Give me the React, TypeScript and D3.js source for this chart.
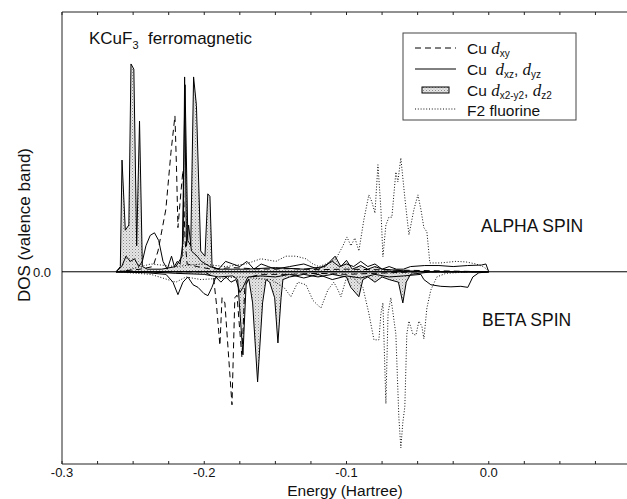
import React, { useMemo } from 'react';
import * as d3 from 'd3';

// ==================== DATA (energy in Hartree, DOS in arb. units) ====================
type Pt = [number, number];

// Cu d(x2-y2), d(z2) - shaded
const shadedAlpha: Pt[] = [
  [-0.262, 0], [-0.259, 0.1], [-0.2578, 2.15], [-0.2555, 0.8], [-0.253, 0.9], [-0.2515, 4.0],
  [-0.2495, 3.9], [-0.2475, 0.5], [-0.2455, 2.9], [-0.2435, 0.1], [-0.24, 0.05], [-0.23, 0.05],
  [-0.22, 0.1], [-0.2155, 0.3], [-0.2135, 3.6], [-0.2115, 0.6], [-0.2095, 0.5], [-0.2075, 3.75],
  [-0.2055, 3.2], [-0.2025, 0.4], [-0.1995, 0.3], [-0.1975, 1.5], [-0.196, 1.45], [-0.1945, 0.1],
  [-0.19, 0.05], [-0.17, 0.05], [-0.15, 0.08], [-0.13, 0.05], [-0.115, 0.1], [-0.108, 0.3],
  [-0.104, 0.1], [-0.1, 0.22], [-0.096, 0.05], [-0.09, 0.12], [-0.085, 0.05], [-0.08, 0.1],
  [-0.075, 0.05], [-0.06, 0.02], [-0.04, 0], [0, 0],
];
const shadedBeta: Pt[] = [
  [-0.262, 0], [-0.24, 0], [-0.22, -0.03], [-0.2, -0.05], [-0.19, -0.1], [-0.18, -0.08],
  [-0.1765, -0.15], [-0.1728, -1.6], [-0.1705, -0.2], [-0.1686, -0.15], [-0.166, -0.6],
  [-0.1625, -2.12], [-0.159, -0.6], [-0.1566, -0.15], [-0.154, -0.2], [-0.1505, -0.5],
  [-0.1482, -1.37], [-0.146, -0.5], [-0.1447, -0.15], [-0.14, -0.1], [-0.13, -0.05],
  [-0.12, -0.1], [-0.11, -0.05], [-0.1, -0.1], [-0.097, -0.3], [-0.0913, -0.48], [-0.0885, -0.15],
  [-0.085, -0.1], [-0.08, -0.2], [-0.075, -0.1], [-0.07, -0.15], [-0.0635, -0.2], [-0.0604, -0.6],
  [-0.058, -0.2], [-0.055, -0.05], [-0.04, 0], [0, 0],
];

// Cu d(xz), d(yz) - solid
const solidAlpha: Pt[] = [
  [-0.262, 0], [-0.258, 0.1], [-0.255, 0.3], [-0.252, 0.2], [-0.249, 0.25], [-0.246, 0.1],
  [-0.2435, 0.2], [-0.241, 0.5], [-0.238, 0.7], [-0.235, 0.75], [-0.232, 0.6], [-0.229, 0.2],
  [-0.226, 0.05], [-0.223, 0.3], [-0.221, 0.1], [-0.219, 0.2], [-0.217, 0.15], [-0.2148, 0.6],
  [-0.2138, 3.75], [-0.2125, 0.5], [-0.211, 0.9], [-0.209, 0.4], [-0.205, 0.3], [-0.202, 0.2],
  [-0.199, 0.15], [-0.196, 0.1], [-0.19, 0.05], [-0.185, 0.2], [-0.18, 0.15], [-0.175, 0.1],
  [-0.17, 0.2], [-0.165, 0.05], [-0.16, 0.15], [-0.155, 0.1], [-0.15, 0.05], [-0.14, 0.1],
  [-0.13, 0.15], [-0.12, 0.05], [-0.11, 0.2], [-0.105, 0.1], [-0.1, 0.15], [-0.095, 0.1],
  [-0.09, 0.2], [-0.085, 0.1], [-0.08, 0.15], [-0.075, 0.05], [-0.07, 0.1], [-0.065, 0.05],
  [-0.06, 0.05], [-0.055, 0.1], [-0.045, 0.12], [-0.035, 0.12], [-0.025, 0.1], [-0.015, 0.12],
  [-0.005, 0.13], [-0.002, 0.15], [0, 0],
];
const solidBeta: Pt[] = [
  [-0.262, 0], [-0.24, -0.02], [-0.2269, -0.05], [-0.222, -0.2], [-0.2185, -0.44], [-0.215, -0.2],
  [-0.2115, -0.1], [-0.2079, -0.25], [-0.2044, -0.3], [-0.2002, -0.42], [-0.1974, -0.46],
  [-0.1946, -0.3], [-0.1918, -0.1], [-0.1883, -0.2], [-0.1848, -0.1], [-0.1812, -0.2],
  [-0.1777, -0.15], [-0.1749, -0.4], [-0.1728, -0.3], [-0.1693, -0.1], [-0.16, -0.08],
  [-0.15, -0.1], [-0.14, -0.05], [-0.13, -0.12], [-0.12, -0.05], [-0.11, -0.15], [-0.1, -0.08],
  [-0.09, -0.12], [-0.08, -0.05], [-0.07, -0.1], [-0.06, -0.08], [-0.0477, -0.05],
  [-0.0456, -0.15], [-0.0407, -0.25], [-0.0337, -0.28], [-0.0266, -0.29], [-0.0196, -0.28],
  [-0.0147, -0.3], [-0.0112, -0.1], [-0.007, -0.02], [0, 0],
];

// Cu d(xy) - dashed
const dashedAlpha: Pt[] = [
  [-0.262, 0], [-0.245, 0.05], [-0.236, 0.1], [-0.2325, 0.4], [-0.227, 1.2], [-0.2234, 2.3],
  [-0.2206, 3.0], [-0.2195, 2.0], [-0.2185, 0.85], [-0.2165, 1.5], [-0.215, 1.95], [-0.2135, 0.6],
  [-0.212, 0.15], [-0.205, 0.1], [-0.195, 0.05], [-0.18, 0.08], [-0.16, 0.05], [-0.14, 0.06],
  [-0.12, 0.04], [-0.1, 0.05], [-0.06, 0.03], [0, 0],
];
const dashedBeta: Pt[] = [
  [-0.262, 0], [-0.2, 0], [-0.1935, -0.1], [-0.1915, -0.6], [-0.189, -1.42], [-0.1875, -0.5],
  [-0.1855, -0.6], [-0.1805, -2.56], [-0.1785, -0.5], [-0.177, -0.45], [-0.1735, -1.65],
  [-0.1715, -0.3], [-0.168, -0.1], [-0.16, -0.05], [-0.14, -0.05], [-0.12, -0.03], [-0.1, -0.05],
  [-0.08, -0.03], [-0.05, 0], [0, 0],
];

// F2 fluorine - dotted
const dottedAlpha: Pt[] = [
  [-0.26, 0], [-0.2515, 0.05], [-0.2375, 0.15], [-0.22, 0.1], [-0.2023, 0.15], [-0.1848, 0.1],
  [-0.1707, 0.15], [-0.1602, 0.25], [-0.1496, 0.2], [-0.1426, 0.3], [-0.1356, 0.3],
  [-0.1285, 0.25], [-0.1236, 0.15], [-0.1194, 0.1], [-0.1145, 0.15], [-0.1074, 0.25],
  [-0.1025, 0.5], [-0.0997, 0.67], [-0.0969, 0.5], [-0.0941, 0.65], [-0.0913, 0.4],
  [-0.0878, 1.0], [-0.0843, 1.48], [-0.0822, 1.35], [-0.08, 1.13], [-0.0779, 2.06],
  [-0.0758, 1.2], [-0.0744, 0.29], [-0.0723, 0.9], [-0.0702, 1.05], [-0.0681, 1.05],
  [-0.0653, 1.92], [-0.0639, 1.73], [-0.0618, 2.19], [-0.0589, 1.4], [-0.0561, 0.71],
  [-0.0526, 1.2], [-0.0498, 1.48], [-0.0477, 1.2], [-0.0456, 0.85], [-0.0435, 0.77],
  [-0.0414, 0.17], [-0.0337, 0.17], [-0.0231, 0.2], [-0.0161, 0.19], [-0.009, 0.15],
  [-0.0041, 0.1], [-0.0013, 0.05], [0, 0],
];
const dottedBeta: Pt[] = [
  [-0.262, 0], [-0.2375, -0.05], [-0.2199, -0.2], [-0.2129, -0.1], [-0.2023, -0.15],
  [-0.1742, -0.1], [-0.1531, -0.15], [-0.144, -0.3], [-0.1391, -0.48], [-0.1342, -0.2],
  [-0.1285, -0.25], [-0.1236, -0.55], [-0.118, -0.7], [-0.1131, -0.35], [-0.1089, -0.2],
  [-0.106, -0.35], [-0.1039, -0.48], [-0.1004, -0.15], [-0.0955, -0.1], [-0.0885, -0.3],
  [-0.0843, -0.8], [-0.0807, -1.31], [-0.0772, -1.31], [-0.0758, -0.8], [-0.0744, -0.6],
  [-0.0723, -2.54], [-0.0708, -0.8], [-0.0688, -0.5], [-0.0653, -1.2], [-0.0632, -2.8],
  [-0.0618, -3.39], [-0.0604, -2.9], [-0.059, -2.6], [-0.0576, -1.2], [-0.0561, -0.95],
  [-0.0533, -1.2], [-0.0512, -1.22], [-0.0491, -0.95], [-0.047, -1.05], [-0.0456, -1.29],
  [-0.0435, -0.7], [-0.0407, -0.35], [-0.0365, -0.1], [-0.0301, -0.03], [-0.0126, 0], [0, 0],
];

const xTicks = [-0.3, -0.2, -0.1, 0.0];
const xMinor = d3.range(-0.3, 0.1001, 0.025);

// ==================== LAYOUT ====================
const W = 627;
const H = 499;
const M = { left: 62, top: 12, bottom: 464, right: 631 };
const SANS = "'Liberation Sans', Arial, sans-serif";
const SERIF = "'Liberation Serif', 'Times New Roman', serif";

const App = () => {
  const x = useMemo(() => d3.scaleLinear().domain([-0.3, 0.1]).range([M.left, M.right]), []);
  const y = useMemo(() => d3.scaleLinear().domain([-3.7, 5.0]).range([M.bottom, M.top]), []);

  const line = d3.line<Pt>().x(d => x(d[0])).y(d => y(d[1]));
  const area = d3.area<Pt>().x(d => x(d[0])).y0(y(0)).y1(d => y(d[1]));

  const y0 = y(0);

  return (
    <svg width={W} height={H} style={{ position: 'absolute', left: 0, top: 0, background: '#fff' }}
      fontFamily={SANS}>
      <defs>
        <clipPath id="plot">
          <rect x={M.left} y={M.top} width={W - M.left} height={M.bottom - M.top} />
        </clipPath>
        <pattern id="stip" width="3" height="3" patternUnits="userSpaceOnUse">
          <rect width="3" height="3" fill="#e6e6e6" />
          <rect x="0" y="0" width="1" height="1" fill="#8a8a8a" />
          <rect x="1.5" y="1.5" width="1" height="1" fill="#b0b0b0" />
        </pattern>
      </defs>

      {/* frame */}
      <g stroke="#222" strokeWidth={1} fill="none">
        <line x1={M.left} x2={M.left} y1={M.top} y2={M.bottom} />
        <line x1={M.left} x2={W} y1={M.top} y2={M.top} />
        <line x1={M.left} x2={W} y1={M.bottom} y2={M.bottom} />
        {xMinor.map((t, i) => (
          <g key={i}>
            <line x1={x(t)} x2={x(t)} y1={M.bottom} y2={M.bottom - 3} />
            <line x1={x(t)} x2={x(t)} y1={M.top} y2={M.top + 3} />
          </g>
        ))}
      </g>

      <g clipPath="url(#plot)">
        {[shadedAlpha, shadedBeta].map((s, i) => (
          <path key={'a' + i} d={area(s) || ''} fill="url(#stip)" stroke="#000" strokeWidth={1} />
        ))}
        {[solidAlpha, solidBeta].map((s, i) => (
          <path key={'s' + i} d={line(s) || ''} fill="none" stroke="#000" strokeWidth={1} />
        ))}
        {[dashedAlpha, dashedBeta].map((s, i) => (
          <path key={'d' + i} d={line(s) || ''} fill="none" stroke="#000" strokeWidth={1}
            strokeDasharray="6,4" />
        ))}
        {[dottedAlpha, dottedBeta].map((s, i) => (
          <path key={'o' + i} d={line(s) || ''} fill="none" stroke="#111" strokeWidth={1}
            strokeDasharray="1,1.8" />
        ))}
        <line x1={M.left} x2={W} y1={y0} y2={y0} stroke="#000" strokeWidth={1} />
      </g>

      {/* axis labels */}
      {xTicks.map(t => (
        <text key={t} x={x(t)} y={477} fontSize={13} textAnchor="middle" fill="#111">
          {t.toFixed(1)}
        </text>
      ))}
      <text x={51} y={y0 + 5} fontSize={13} textAnchor="end" fill="#111">0.0</text>
      <text x={345} y={495.5} fontSize={15.5} textAnchor="middle" fill="#111">Energy (Hartree)</text>
      <text transform={`translate(30,${225}) rotate(-90)`} fontSize={17} textAnchor="middle"
        fill="#111">DOS (valence band)</text>

      {/* annotations */}
      <text x={89} y={44} fontSize={17} fill="#111">
        KCuF<tspan fontSize={11} dy={5}>3</tspan><tspan dy={-5}>{'\u00a0 ferromagnetic'}</tspan>
      </text>
      <text x={481} y={232} fontSize={17.5} fill="#111">ALPHA SPIN</text>
      <text x={482} y={326} fontSize={17.5} fill="#111">BETA SPIN</text>

      {/* legend */}
      <g>
        <rect x={403} y={33} width={173} height={87} fill="#fff" stroke="#444" strokeWidth={1} />
        <line x1={415} x2={456} y1={48} y2={48} stroke="#000" strokeDasharray="6,4" />
        <line x1={415} x2={456} y1={69} y2={69} stroke="#000" />
        <rect x={422} y={87} width={27} height={6} fill="url(#stip)" stroke="#000" />
        <line x1={415} x2={456} y1={109} y2={109} stroke="#111" strokeDasharray="1,1.8" />
        <g fontSize={15.5} fill="#111">
          <text x={467} y={54}>
            Cu <tspan fontFamily={SERIF} fontStyle="italic" fontSize={17}>d</tspan>
            <tspan fontSize={10} dy={3}>xy</tspan>
          </text>
          <text x={467} y={75}>
            {'Cu\u00a0 '}<tspan fontFamily={SERIF} fontStyle="italic" fontSize={17}>d</tspan>
            <tspan fontSize={10} dy={3}>xz</tspan><tspan dy={-3}>, </tspan>
            <tspan fontFamily={SERIF} fontStyle="italic" fontSize={17}>d</tspan>
            <tspan fontSize={10} dy={3}>yz</tspan>
          </text>
          <text x={467} y={96}>
            Cu <tspan fontFamily={SERIF} fontStyle="italic" fontSize={17}>d</tspan>
            <tspan fontSize={10} dy={3}>x2-y2</tspan><tspan dy={-3}>, </tspan>
            <tspan fontFamily={SERIF} fontStyle="italic" fontSize={17}>d</tspan>
            <tspan fontSize={10} dy={3}>z2</tspan>
          </text>
          <text x={467} y={116}>F2 fluorine</text>
        </g>
      </g>
    </svg>
  );
};

export default App;
